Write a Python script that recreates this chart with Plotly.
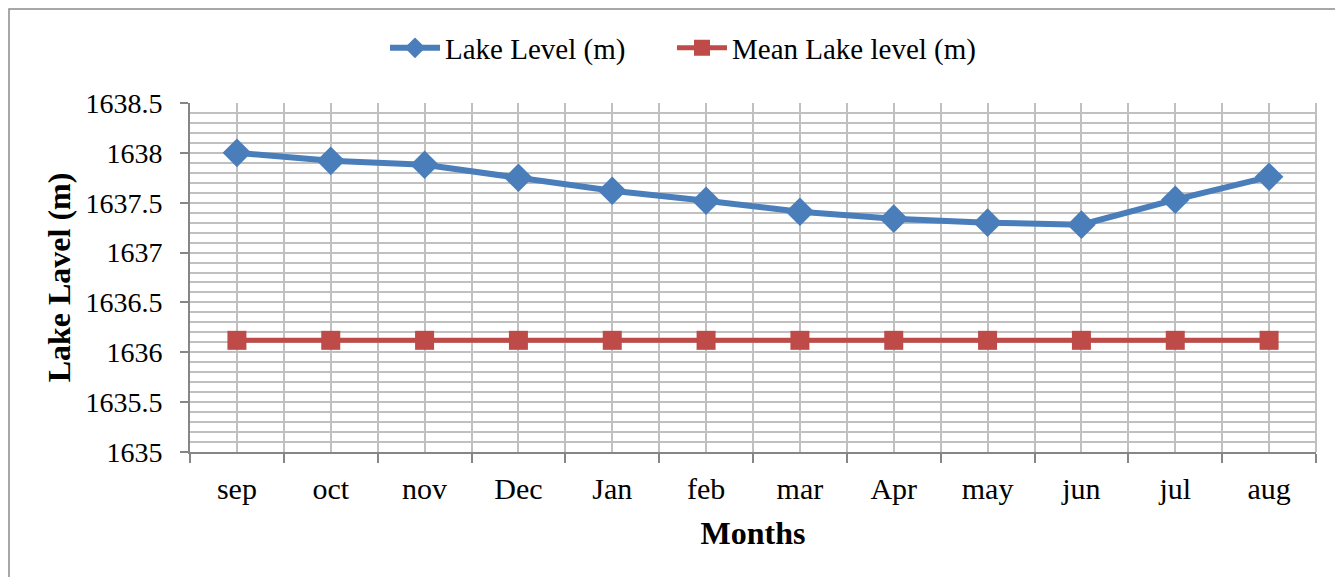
import plotly.graph_objects as go

months = ["sep", "oct", "nov", "Dec", "Jan", "feb", "mar", "Apr", "may", "jun", "jul", "aug"]
lake_level = [1638.00, 1637.92, 1637.88, 1637.75, 1637.62, 1637.52, 1637.41, 1637.34, 1637.30, 1637.28, 1637.53, 1637.76]
mean_level = [1636.12] * 12
y_ticks = [1635, 1635.5, 1636, 1636.5, 1637, 1637.5, 1638, 1638.5]

idx = list(range(len(months)))
FONT = "Liberation Serif, Times New Roman, serif"
GRID = "#c0c0c0"
AX = "#868686"

fig = go.Figure()
fig.add_trace(go.Scatter(
    x=idx, y=lake_level, name="Lake Level (m)", mode="lines+markers",
    line=dict(color="#4a7ebb", width=6),
    marker=dict(symbol="diamond", size=22, color="#4a7ebb"),
    legend="legend",
))
fig.add_trace(go.Scatter(
    x=idx, y=mean_level, name="Mean Lake level (m)", mode="lines+markers",
    line=dict(color="#be4b48", width=5),
    marker=dict(symbol="square", size=19, color="#be4b48"),
    legend="legend2",
))

W, H = 1335, 577
L, R, T, B = 190, 19, 103, 125
pw, ph = W - L - R, H - T - B
leg_y = 1 + (103 - 48) / ph

fig.update_layout(
    width=W, height=H,
    margin=dict(l=L, r=R, t=T, b=B, autoexpand=False),
    paper_bgcolor="white", plot_bgcolor="white",
    font=dict(family=FONT, color="black"),
    showlegend=True,
    legend=dict(orientation="h", x=(385 - L) / pw, xanchor="left", y=leg_y, yanchor="middle",
                font=dict(size=29, family=FONT), itemwidth=50),
    legend2=dict(orientation="h", x=(672 - L) / pw, xanchor="left", y=leg_y, yanchor="middle",
                 font=dict(size=29, family=FONT), itemwidth=50),
    xaxis=dict(
        range=[-0.5, len(months) - 0.5],
        tickmode="array", tickvals=idx, ticktext=months,
        ticks="", showgrid=True, gridcolor=GRID, gridwidth=2,
        tickfont=dict(size=30, family=FONT), ticklabelstandoff=9,
        showline=True, linecolor=AX, linewidth=2, mirror=False,
        zeroline=False,
        minor=dict(dtick=1, tick0=0.5, ticks="outside", ticklen=9, tickcolor=AX, tickwidth=2,
                   showgrid=True, gridcolor=GRID, gridwidth=2),
        title=dict(text="<b>Months</b>", font=dict(size=32, family=FONT), standoff=18),
    ),
    yaxis=dict(
        range=[1635, 1638.5], tickmode="array", tickvals=y_ticks,
        ticktext=[f"{v:g}" for v in y_ticks],
        ticks="outside", ticklen=8, tickcolor=AX, tickwidth=2,
        showgrid=True, gridcolor=GRID, gridwidth=2,
        tickfont=dict(size=28, family=FONT), ticklabelstandoff=12,
        showline=True, linecolor=AX, linewidth=2, zeroline=False,
        minor=dict(dtick=0.1, tick0=1635, showgrid=True, gridcolor=GRID, gridwidth=2, ticks=""),
        title=dict(text="<b>Lake Lavel (m)</b>", font=dict(size=32, family=FONT), standoff=5),
    ),
)

# right border of plot area
fig.add_shape(type="line", xref="paper", yref="paper", x0=1, x1=1, y0=0, y1=1,
              line=dict(color=GRID, width=2))
# outer chart border
fig.add_shape(type="rect", xref="paper", yref="paper",
              x0=(9 - L) / pw, x1=(W + 10 - L) / pw,
              y0=(H - B - (H + 10)) / ph, y1=(H - B - 9) / ph,
              line=dict(color="#8c8c8c", width=1.5), fillcolor="rgba(0,0,0,0)", layer="below")

fig.write_html("out.html", config={"displayModeBar": False},
               post_script="document.body.style.margin='0';document.body.style.overflow='hidden';")
